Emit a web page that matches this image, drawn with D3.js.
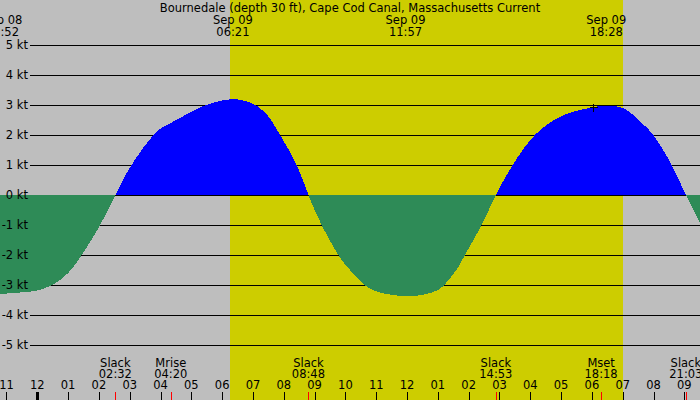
<!DOCTYPE html>
<html>
<head>
<meta charset="utf-8">
<script src="https://cdn.jsdelivr.net/npm/d3@7"></script>
<style>
body { margin: 0; background: #bebebe; }
text { font-family: "DejaVu Sans", sans-serif; font-size: 11.5px; fill: #000; }
</style>
</head>
<body>
<div id="chart"></div>
<script>
var width = 700, height = 400;

var title = "Bournedale (depth 30 ft), Cape Cod Canal, Massachusetts Current";

// current curve, hours from midnight Sep 09 (negative = Sep 08) and knots
var curveHours = [-1.21, -0.24, 0.20, 0.57, 1.00, 1.44, 2.04, 2.533,
    3.06, 3.77, 4.20, 4.63, 5.00, 5.40, 5.80, 6.37, 6.85, 7.15, 7.50, 7.88, 8.42, 8.80,
    9.23, 9.77, 10.15, 10.56, 10.96, 11.50, 11.93, 12.36, 12.91, 13.25, 13.60, 13.88, 14.42, 14.883,
    15.43, 16.15, 16.97, 17.61, 18.05, 18.48, 18.91, 19.25, 19.56, 19.99, 20.59, 21.05, 21.51];
var curveKnots = [-3.30, -3.22, -3.12, -2.95, -2.60, -2.00, -1.00, 0,
    1.00, 2.00, 2.33, 2.57, 2.77, 2.97, 3.10, 3.20, 3.10, 2.95, 2.62, 2.00, 1.00, 0,
    -1.00, -2.00, -2.50, -2.95, -3.20, -3.33, -3.37, -3.35, -3.21, -2.95, -2.50, -2.00, -1.00, 0,
    1.00, 2.00, 2.61, 2.83, 2.93, 2.98, 2.93, 2.75, 2.45, 2.00, 1.00, 0, -0.93];

var ktTicks = [5, 4, 3, 2, 1, 0, -1, -2, -3, -4, -5];

// sun / moon labels along the top
var topDays = ["Sep 08", "Sep 09", "Sep 09", "Sep 09"];
var topTimes = ["22:52", "06:21", "11:57", "18:28"];

// events along the bottom
var eventNames = ["Slack", "Mrise", "Slack", "Slack", "Mset", "Slack"];
var eventTimes = ["02:32", "04:20", "08:48", "14:53", "18:18", "21:03"];

var dayShade = ["06:15", "19:01"];
var markTime = "18:03", markKnots = 2.94;

var base = new Date(2000, 8, 9, 0, 0);
function toDate(h) { return new Date(base.getTime() + h * 3600e3); }
function hourOf(t, day) {
    var p = t.split(":");
    var h = +p[0] + p[1] / 60;
    if (day == "Sep 08") h -= 24;
    return h;
}

var x = d3.scaleTime()
    .domain([toDate(-1.2107), toDate(21.509)])
    .range([0, width]);
var y = d3.scaleLinear()
    .domain([-5, 5])
    .range([345, 45]);

var svg = d3.select("#chart").append("svg")
    .attr("width", width)
    .attr("height", height);

svg.append("rect")
    .attr("width", width).attr("height", height)
    .attr("fill", "#bebebe");

// daylight band
svg.append("rect")
    .attr("x", x(toDate(hourOf(dayShade[0]))))
    .attr("y", 0)
    .attr("width", x(toDate(hourOf(dayShade[1]))) - x(toDate(hourOf(dayShade[0]))))
    .attr("height", height)
    .attr("fill", "#cdcd00")
    .attr("shape-rendering", "crispEdges");

// grid lines
svg.selectAll(".grid").data(ktTicks).enter().append("line")
    .attr("class", "grid")
    .attr("x1", 30).attr("x2", width)
    .attr("y1", d => Math.round(y(d)) + 0.5)
    .attr("y2", d => Math.round(y(d)) + 0.5)
    .attr("stroke", "#000")
    .attr("shape-rendering", "crispEdges");

// flood / ebb fills
var pts = curveHours.map((h, i) => ({ t: toDate(h), v: curveKnots[i] }));
var area = d3.area()
    .x(d => x(d.t))
    .y0(y(0))
    .y1(d => y(d.v))
    .curve(d3.curveNatural);

var defs = svg.append("defs");
defs.append("clipPath").attr("id", "above")
    .append("rect").attr("x", 0).attr("y", 0).attr("width", width).attr("height", y(0));
defs.append("clipPath").attr("id", "below")
    .append("rect").attr("x", 0).attr("y", y(0)).attr("width", width).attr("height", height - y(0));

svg.append("path").datum(pts)
    .attr("d", area)
    .attr("fill", "#0000ff")
    .attr("clip-path", "url(#above)")
    .attr("shape-rendering", "crispEdges");
svg.append("path").datum(pts)
    .attr("d", area)
    .attr("fill", "#2e8b57")
    .attr("clip-path", "url(#below)")
    .attr("shape-rendering", "crispEdges");

// kt labels sit on top of the fills
svg.selectAll(".ktlab").data(ktTicks).enter().append("text")
    .attr("class", "ktlab")
    .attr("x", 28)
    .attr("y", d => y(d) + 4)
    .attr("text-anchor", "end")
    .text(d => d + " kt");

// small cross marker
var mx = Math.round(x(toDate(hourOf(markTime)))) + 0.5, my = Math.round(y(markKnots)) + 0.5;
svg.append("path")
    .attr("d", "M" + (mx - 4) + "," + my + "H" + (mx + 4) + "M" + mx + "," + (my - 4) + "V" + (my + 4))
    .attr("stroke", "#000")
    .attr("shape-rendering", "crispEdges");

// title and top labels
svg.append("text")
    .attr("x", 350).attr("y", 11.5)
    .attr("text-anchor", "middle")
    .text(title);
topTimes.forEach(function (t, i) {
    var cx = x(toDate(hourOf(t, topDays[i])));
    svg.append("text").attr("x", cx).attr("y", 24).attr("text-anchor", "middle").text(topDays[i]);
    svg.append("text").attr("x", cx).attr("y", 36).attr("text-anchor", "middle").text(t);
});

// hour ticks along the bottom
var hours = x.ticks(d3.timeHour.every(1));
var fmt = d3.timeFormat("%I");
svg.selectAll(".htick").data(hours).enter().append("line")
    .attr("class", "htick")
    .attr("x1", d => Math.round(x(d)) + 0.5)
    .attr("x2", d => Math.round(x(d)) + 0.5)
    .attr("y1", 392).attr("y2", 400)
    .attr("stroke", "#000")
    .attr("stroke-width", d => d.getHours() == 0 ? 3 : 1)
    .attr("shape-rendering", "crispEdges");
svg.selectAll(".hlab").data(hours).enter().append("text")
    .attr("class", "hlab")
    .attr("x", d => x(d))
    .attr("y", 389)
    .attr("text-anchor", "middle")
    .text(d => fmt(d));

// events
eventTimes.forEach(function (t, i) {
    var ex = x(toDate(hourOf(t)));
    svg.append("line")
        .attr("x1", Math.round(ex) + 0.5).attr("x2", Math.round(ex) + 0.5)
        .attr("y1", 392).attr("y2", 400)
        .attr("stroke", "#ff0000")
        .attr("shape-rendering", "crispEdges");
    svg.append("text").attr("x", ex).attr("y", 366.5).attr("text-anchor", "middle").text(eventNames[i]);
    svg.append("text").attr("x", ex).attr("y", 377.5).attr("text-anchor", "middle").text(t);
});
</script>
</body>
</html>
